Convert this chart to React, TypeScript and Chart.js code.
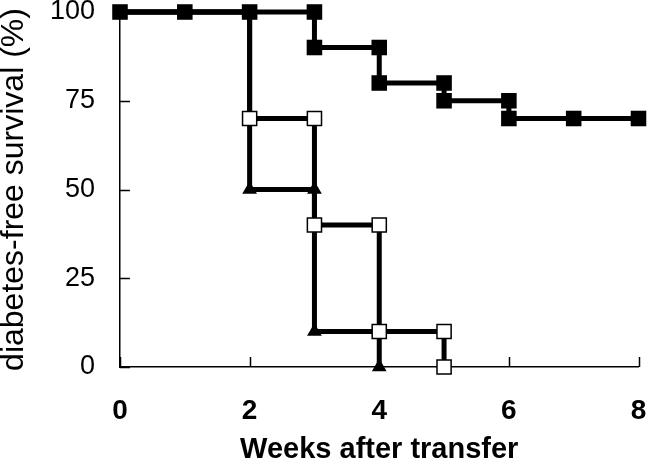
import React, { useEffect, useRef } from "react";
import { Chart, registerables } from "chart.js";

Chart.register(...registerables);

// Data (weeks after transfer vs diabetes-free survival %)
const weeksA = [0, 1, 2, 3, 3, 4, 4, 5, 5, 6, 6, 7, 8];
const survivalA = [100, 100, 100, 100, 90, 90, 80, 80, 75, 75, 70, 70, 70];
const weeksB = [0, 2, 2, 3, 3, 4, 4, 5, 5];
const survivalB = [100, 100, 70, 70, 40, 40, 10, 10, 0];
const weeksC = [0, 2, 2, 3, 3, 4, 4];
const survivalC = [100, 100, 50, 50, 10, 10, 0];
const xTickValues = [0, 2, 4, 6, 8];
const yTickValues = [0, 25, 50, 75, 100];
const xTitle = "Weeks after transfer";
const yTitle = "diabetes-free survival (%)";

const toPoints = (xs: number[], ys: number[]) => xs.map((x, i) => ({ x, y: ys[i] }));

const FONT = "'Liberation Sans', Arial, sans-serif";

const innerTicks = {
  id: "innerTicks",
  beforeDatasetsDraw(chart: any) {
    const { ctx, chartArea, scales } = chart;
    ctx.save();
    ctx.strokeStyle = "#000";
    ctx.lineWidth = 1.5;
    ctx.beginPath();
    for (const v of yTickValues) {
      const y = Math.round(scales.y.getPixelForValue(v)) + 0.5;
      ctx.moveTo(chartArea.left, y);
      ctx.lineTo(chartArea.left + 10, y);
    }
    for (const v of xTickValues) {
      const x = Math.round(scales.x.getPixelForValue(v)) + 0.5;
      ctx.moveTo(x, chartArea.bottom);
      ctx.lineTo(x, chartArea.bottom - 10);
    }
    ctx.stroke();
    ctx.restore();
  },
};

export default function App() {
  const ref = useRef<HTMLCanvasElement | null>(null);
  useEffect(() => {
    if (!ref.current) return;
    const hideTop = (ctx: any, r: number) => (ctx.raw && ctx.raw.y === 100 ? 0 : r);
    const chart = new Chart(ref.current, {
      type: "line",
      data: {
        datasets: [
          {
            label: "A",
            data: toPoints(weeksA, survivalA),
            borderColor: "#000",
            borderWidth: 5,
            pointStyle: "rect",
            pointRadius: 11,
            pointBackgroundColor: "#000",
            pointBorderColor: "#000",
            pointBorderWidth: 0,
            order: 0,
          },
          {
            label: "B",
            data: toPoints(weeksB, survivalB),
            borderColor: "#000",
            borderWidth: 5,
            pointStyle: "rect",
            pointRadius: (c: any) => hideTop(c, 10),
            pointBackgroundColor: "#fff",
            pointBorderColor: "#000",
            pointBorderWidth: 1.5,
            order: 1,
          },
          {
            label: "C",
            data: toPoints(weeksC, survivalC),
            borderColor: "#000",
            borderWidth: 5,
            pointStyle: "triangle",
            pointRadius: (c: any) => hideTop(c, 8.5),
            pointBackgroundColor: "#000",
            pointBorderColor: "#000",
            pointBorderWidth: 0,
            order: 2,
          },
        ],
      },
      options: {
        animation: false,
        responsive: false,
        clip: false as any,
        layout: { padding: { top: 12, right: 9, left: 0, bottom: 0 } },
        plugins: { legend: { display: false }, tooltip: { enabled: false } },
        elements: { line: { tension: 0, borderCapStyle: "square", borderJoinStyle: "miter" } },
        scales: {
          x: {
            type: "linear",
            min: 0,
            max: 8,
            afterBuildTicks: (s: any) => {
              s.ticks = xTickValues.map((v) => ({ value: v }));
            },
            afterFit: (s: any) => {
              s.height = 97;
              s.paddingLeft = 0;
              s.paddingRight = 0;
            },
            grid: { display: false, drawTicks: false },
            border: { display: true, color: "#000", width: 1.5 },
            ticks: {
              color: "#000",
              padding: 27,
              font: { family: FONT, size: 28, weight: "bold" },
            },
            title: {
              display: true,
              text: xTitle,
              color: "#000",
              padding: 0,
              font: { family: FONT, size: 29, weight: "bold", lineHeight: 1.0 },
            },
          },
          y: {
            type: "linear",
            min: 0,
            max: 100,
            afterBuildTicks: (s: any) => {
              s.ticks = yTickValues.map((v) => ({ value: v }));
            },
            afterFit: (s: any) => {
              s.width = 120;
              s.paddingTop = 0;
              s.paddingBottom = 0;
            },
            grid: { display: false, drawTicks: false },
            border: { display: true, color: "#000", width: 1.5 },
            ticks: {
              color: "#000",
              padding: 25,
              font: { family: FONT, size: 27, weight: "normal" },
            },
            title: {
              display: true,
              text: yTitle,
              color: "#000",
              padding: 0,
              font: { family: FONT, size: 32, weight: "normal", lineHeight: 0.9 },
            },
          },
        },
      },
      plugins: [innerTicks],
    } as any);
    return () => chart.destroy();
  }, []);
  return (
    <div style={{ position: "fixed", left: 0, top: 0, width: 650, height: 464, background: "#fff" }}>
      <canvas ref={ref} width={650} height={464} style={{ width: 650, height: 464 }} />
    </div>
  );
}
